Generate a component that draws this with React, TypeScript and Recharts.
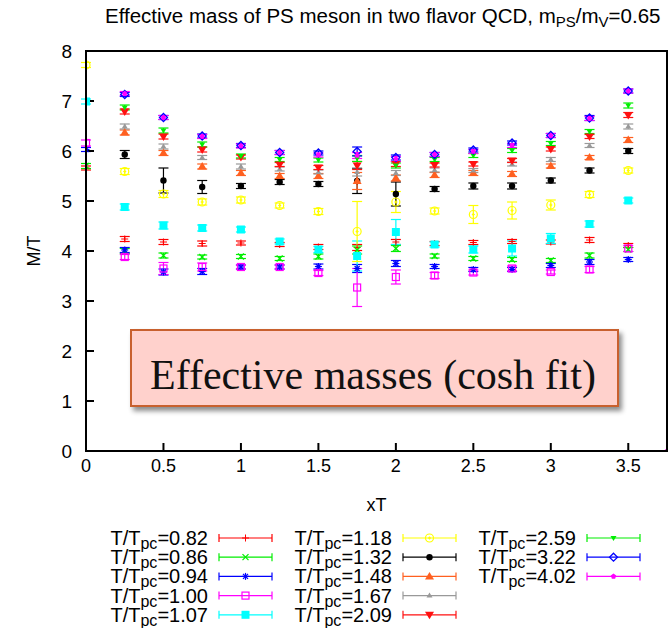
import React from 'react';
import { ScatterChart, Scatter, XAxis, YAxis, ErrorBar } from 'recharts';

// time slices in units of 1/T
const XT = [0, 0.25, 0.5, 0.75, 1, 1.25, 1.5, 1.75, 2, 2.25, 2.5, 2.75, 3, 3.25, 3.5, 3.75];
const X_TICKS = [0, 0.5, 1, 1.5, 2, 2.5, 3, 3.5];
const Y_TICKS = [0, 1, 2, 3, 4, 5, 6, 7, 8];
const X_RANGE = [0, 3.75];
const Y_RANGE = [0, 8];

// effective mass M/T per temperature (null = off scale)
const M_082 = [5.66, 4.24, 4.18, 4.15, 4.16, 4.13, 4.08, 4.07, 4.18, 4.15, 4.17, 4.19, 4.18, 4.22, 4.11, null];
const M_086 = [5.7, 4.0, 3.91, 3.88, 3.89, 3.85, 3.89, 4.02, 4.05, 3.9, 3.85, 3.83, 3.81, 3.91, 4.03, null];
const M_094 = [6.03, 4.02, 3.58, 3.59, 3.68, 3.68, 3.69, 3.65, 3.75, 3.69, 3.63, 3.63, 3.71, 3.78, 3.83, null];
const M_100 = [6.16, 3.88, 3.65, 3.68, 3.68, 3.68, 3.56, 3.27, 3.48, 3.51, 3.57, 3.65, 3.58, 3.63, 4.05, null];
const M_107 = [6.99, 4.88, 4.51, 4.46, 4.43, 4.19, 4.03, 3.9, 4.38, 4.13, 4.03, 4.05, 4.25, 4.54, 5.01, null];
const M_118 = [7.72, 5.59, 5.14, 4.98, 5.02, 4.91, 4.79, 4.39, 4.98, 4.8, 4.73, 4.81, 4.92, 5.13, 5.61, null];
const M_132 = [null, 5.93, 5.41, 5.28, 5.3, 5.38, 5.34, 5.4, 5.14, 5.24, 5.3, 5.3, 5.41, 5.61, 6.0, null];
const M_148 = [null, 6.37, 5.96, 5.69, 5.56, 5.5, 5.5, 5.4, 5.46, 5.52, 5.56, 5.54, 5.7, 5.87, 6.22, null];
const M_167 = [null, 6.49, 6.09, 5.87, 5.69, 5.64, 5.58, 5.58, 5.56, 5.62, 5.61, 5.74, 5.83, 6.11, 6.49, null];
const M_209 = [null, 6.79, 6.29, 6.03, 5.88, 5.73, 5.67, 5.71, 5.74, 5.72, 5.74, 5.81, 6.04, 6.29, 6.72, null];
const M_259 = [null, 6.87, 6.41, 6.13, 5.9, 5.83, 5.82, 5.85, 5.71, 5.83, 5.91, 6.01, 6.15, 6.39, 6.91, null];
const M_322 = [null, 7.13, 6.67, 6.3, 6.11, 5.97, 5.96, 5.99, 5.87, 5.93, 6.02, 6.16, 6.31, 6.66, 7.2, null];
const M_402 = [null, 7.15, 6.67, 6.29, 6.1, 5.97, 5.92, 5.91, 5.84, 5.93, 5.99, 6.11, 6.31, 6.65, 7.2, 0];

// statistical errors
const E_082 = [0.04, 0.05, 0.05, 0.05, 0.04, 0.04, 0.05, 0.06, 0.05, 0.04, 0.04, 0.04, 0.04, 0.05, 0.04, 0];
const E_086 = [0.05, 0.05, 0.05, 0.04, 0.04, 0.04, 0.05, 0.08, 0.06, 0.04, 0.04, 0.04, 0.04, 0.05, 0.04, 0];
const E_094 = [0.04, 0.05, 0.06, 0.06, 0.04, 0.04, 0.05, 0.08, 0.06, 0.04, 0.04, 0.04, 0.04, 0.05, 0.04, 0];
const E_100 = [0.06, 0.05, 0.12, 0.08, 0.04, 0.04, 0.05, 0.38, 0.14, 0.06, 0.05, 0.05, 0.04, 0.06, 0.06, 0];
const E_107 = [0.05, 0.06, 0.07, 0.06, 0.05, 0.05, 0.06, 0.3, 0.25, 0.05, 0.07, 0.15, 0.1, 0.06, 0.05, 0];
const E_118 = [0.05, 0.06, 0.07, 0.06, 0.06, 0.05, 0.06, 0.6, 0.21, 0.06, 0.18, 0.17, 0.1, 0.06, 0.05, 0];
const E_132 = [0, 0.08, 0.25, 0.13, 0.05, 0.05, 0.05, 0.25, 0.24, 0.05, 0.06, 0.06, 0.05, 0.05, 0.05, 0];
const E_148 = [0, 0.05, 0.05, 0.05, 0.05, 0.05, 0.05, 0.17, 0.06, 0.05, 0.05, 0.05, 0.04, 0.04, 0.05, 0];
const E_167 = [0, 0.05, 0.05, 0.04, 0.05, 0.04, 0.04, 0.08, 0.05, 0.04, 0.04, 0.04, 0.04, 0.04, 0.05, 0];
const E_209 = [0, 0.05, 0.05, 0.05, 0.04, 0.04, 0.04, 0.08, 0.05, 0.04, 0.04, 0.04, 0.04, 0.04, 0.05, 0];
const E_259 = [0, 0.05, 0.05, 0.05, 0.04, 0.04, 0.04, 0.06, 0.05, 0.04, 0.04, 0.04, 0.04, 0.04, 0.05, 0];
const E_322 = [0, 0.04, 0.04, 0.04, 0.04, 0.04, 0.04, 0.09, 0.05, 0.04, 0.04, 0.04, 0.04, 0.05, 0.04, 0];
const E_402 = [0, 0.04, 0.04, 0.04, 0.04, 0.04, 0.04, 0.06, 0.05, 0.04, 0.04, 0.04, 0.04, 0.04, 0.04, 0];

type MarkerKind =
  | 'plus' | 'cross' | 'star' | 'openSquare' | 'square' | 'openCircle' | 'circle'
  | 'triUp' | 'triUpSmall' | 'triDown' | 'triDownSmall' | 'openDiamond' | 'pentagon';

const SERIES: { label: string; color: string; marker: MarkerKind; m: (number | null)[]; e: number[] }[] = [
  { label: '0.82', color: '#ff0000', marker: 'plus', m: M_082, e: E_082 },
  { label: '0.86', color: '#00ee00', marker: 'cross', m: M_086, e: E_086 },
  { label: '0.94', color: '#0000ff', marker: 'star', m: M_094, e: E_094 },
  { label: '1.00', color: '#ff00ff', marker: 'openSquare', m: M_100, e: E_100 },
  { label: '1.07', color: '#00ffff', marker: 'square', m: M_107, e: E_107 },
  { label: '1.18', color: '#ffff00', marker: 'openCircle', m: M_118, e: E_118 },
  { label: '1.32', color: '#000000', marker: 'circle', m: M_132, e: E_132 },
  { label: '1.48', color: '#ff6020', marker: 'triUp', m: M_148, e: E_148 },
  { label: '1.67', color: '#999999', marker: 'triUpSmall', m: M_167, e: E_167 },
  { label: '2.09', color: '#ff1010', marker: 'triDown', m: M_209, e: E_209 },
  { label: '2.59', color: '#00ee00', marker: 'triDownSmall', m: M_259, e: E_259 },
  { label: '3.22', color: '#0000ff', marker: 'openDiamond', m: M_322, e: E_322 },
  { label: '4.02', color: '#ff00ff', marker: 'pentagon', m: M_402, e: E_402 },
];

const FONT = '"Liberation Sans", Arial, Helvetica, sans-serif';
const FRAME = { stroke: '#000', strokeWidth: 2 };

// chart geometry: the plot box is what the margins and axis sizes leave over
const CHART_W = 669;
const CHART_H = 520;
const MARGIN = { top: 51, right: 2, bottom: 9, left: 0 };
const Y_AXIS_W = 86;
const X_AXIS_H = 60;
const PLOT = {
  x: MARGIN.left + Y_AXIS_W,
  y: MARGIN.top,
  w: CHART_W - MARGIN.left - Y_AXIS_W - MARGIN.right,
  h: CHART_H - MARGIN.top - MARGIN.bottom - X_AXIS_H,
};

const Marker = ({ kind, color, cx, cy }: { kind: MarkerKind; color: string; cx: number; cy: number }) => {
  const s = 3.5;
  switch (kind) {
    case 'plus':
      return (
        <g stroke={color} strokeWidth={1}>
          <line x1={cx - s} y1={cy} x2={cx + s} y2={cy} />
          <line x1={cx} y1={cy - s} x2={cx} y2={cy + s} />
        </g>
      );
    case 'cross':
      return (
        <g stroke={color} strokeWidth={1.2}>
          <line x1={cx - 3} y1={cy - 3} x2={cx + 3} y2={cy + 3} />
          <line x1={cx - 3} y1={cy + 3} x2={cx + 3} y2={cy - 3} />
        </g>
      );
    case 'star':
      return (
        <g stroke={color} strokeWidth={1.2}>
          <line x1={cx - s} y1={cy} x2={cx + s} y2={cy} />
          <line x1={cx} y1={cy - s} x2={cx} y2={cy + s} />
          <line x1={cx - 2.5} y1={cy - 2.5} x2={cx + 2.5} y2={cy + 2.5} />
          <line x1={cx - 2.5} y1={cy + 2.5} x2={cx + 2.5} y2={cy - 2.5} />
        </g>
      );
    case 'openSquare':
      return <rect x={cx - 3.5} y={cy - 3.5} width={7} height={7} fill="none" stroke={color} strokeWidth={1.2} />;
    case 'square':
      return <rect x={cx - 4} y={cy - 4} width={8} height={8} fill={color} />;
    case 'openCircle':
      return (
        <g stroke={color} strokeWidth={1.2} fill="none">
          <circle cx={cx} cy={cy} r={4} />
          <line x1={cx - 1.5} y1={cy} x2={cx + 1.5} y2={cy} />
          <line x1={cx} y1={cy - 1.5} x2={cx} y2={cy + 1.5} />
        </g>
      );
    case 'circle':
      return <circle cx={cx} cy={cy} r={3.2} fill={color} />;
    case 'triUp':
      return <polygon points={`${cx},${cy - 4.5} ${cx - 4.5},${cy + 3} ${cx + 4.5},${cy + 3}`} fill={color} />;
    case 'triUpSmall':
      return <polygon points={`${cx},${cy - 3} ${cx - 3},${cy + 2} ${cx + 3},${cy + 2}`} fill={color} />;
    case 'triDown':
      return <polygon points={`${cx},${cy + 4.5} ${cx - 4.5},${cy - 3} ${cx + 4.5},${cy - 3}`} fill={color} />;
    case 'triDownSmall':
      return <polygon points={`${cx},${cy + 3} ${cx - 3},${cy - 2} ${cx + 3},${cy - 2}`} fill={color} />;
    case 'openDiamond':
      return (
        <polygon
          points={`${cx},${cy - 4} ${cx + 4},${cy} ${cx},${cy + 4} ${cx - 4},${cy}`}
          fill="none"
          stroke={color}
          strokeWidth={1.3}
        />
      );
    case 'pentagon':
    default: {
      const pts = [0, 1, 2, 3, 4]
        .map((k) => {
          const a = -Math.PI / 2 + (k * 2 * Math.PI) / 5;
          return `${cx + 2.8 * Math.cos(a)},${cy + 2.8 * Math.sin(a)}`;
        })
        .join(' ');
      return <polygon points={pts} fill={color} />;
    }
  }
};

const seriesData = (m: (number | null)[], e: number[]) =>
  XT.map((x, i) => ({ x, y: m[i], err: e[i] })).filter((d) => d.y !== null);

// key entry: label right-aligned, then a gnuplot style error bar sample
const KeyEntry = ({ label, color, marker, x, y }: { label: string; color: string; marker: MarkerKind; x: number; y: number }) => (
  <g>
    <text x={x} y={y} textAnchor="end" fontSize={20} fontFamily={FONT} fill="#000">
      T/T<tspan dy={4} fontSize={16}>pc</tspan>
      <tspan dy={-4}>={label}</tspan>
    </text>
    <g stroke={color} strokeWidth={1.2}>
      <line x1={x + 11} y1={y - 7} x2={x + 64} y2={y - 7} />
      <line x1={x + 11} y1={y - 11} x2={x + 11} y2={y - 3} />
      <line x1={x + 64} y1={y - 11} x2={x + 64} y2={y - 3} />
    </g>
    <Marker kind={marker} color={color} cx={x + 37.5} cy={y - 7} />
  </g>
);

const KEY_COLS = [208, 392, 576];
const KEY_ROW0 = 545;
const KEY_ROW_STEP = 19.2;

const App = () => {
  return (
    <div style={{ position: 'absolute', left: 0, top: 0, width: 669, height: 628, background: '#fff' }}>
      <div style={{ position: 'absolute', left: 0, top: 0 }}>
        <ScatterChart width={CHART_W} height={CHART_H} margin={MARGIN}>
          <XAxis
            type="number"
            dataKey="x"
            domain={X_RANGE}
            ticks={X_TICKS}
            allowDataOverflow
            height={X_AXIS_H}
            tickSize={-8}
            tickMargin={16}
            axisLine={FRAME}
            tickLine={FRAME}
            tick={{ fontSize: 18, fill: '#000', fontFamily: FONT }}
            label={{ value: 'xT', position: 'insideBottom', offset: 0, fontSize: 18, fill: '#000', fontFamily: FONT }}
          />
          <XAxis
            xAxisId="top"
            orientation="top"
            type="number"
            domain={X_RANGE}
            ticks={X_TICKS}
            allowDataOverflow
            height={0}
            tickSize={-8}
            tickFormatter={() => ''}
            axisLine={FRAME}
            tickLine={FRAME}
          />
          <YAxis
            type="number"
            dataKey="y"
            domain={Y_RANGE}
            ticks={Y_TICKS}
            allowDataOverflow
            width={Y_AXIS_W}
            tickSize={-8}
            tickMargin={22}
            axisLine={FRAME}
            tickLine={FRAME}
            tick={{ fontSize: 19, fill: '#000', fontFamily: FONT }}
          />
          <YAxis
            yAxisId="right"
            orientation="right"
            type="number"
            domain={Y_RANGE}
            ticks={Y_TICKS}
            allowDataOverflow
            width={0}
            tickSize={-8}
            tickFormatter={() => ''}
            axisLine={FRAME}
            tickLine={FRAME}
          />
          {SERIES.map((s) => (
            <Scatter
              key={s.label}
              name={s.label}
              data={seriesData(s.m, s.e)}
              isAnimationActive={false}
              shape={(p: any) => <Marker kind={s.marker} color={s.color} cx={p.cx} cy={p.cy} />}
            >
              <ErrorBar dataKey="err" direction="y" width={5} stroke={s.color} strokeWidth={1.2} isAnimationActive={false} />
            </Scatter>
          ))}
        </ScatterChart>
      </div>

      <svg width={669} height={628} style={{ position: 'absolute', left: 0, top: 0, pointerEvents: 'none' }}>
        <defs>
          <filter id="boxShadow" x="-5%" y="-20%" width="115%" height="150%">
            <feDropShadow dx={3} dy={4} stdDeviation={2.5} floodColor="#000" floodOpacity={0.45} />
          </filter>
        </defs>

        {/* plot border */}
        <rect x={PLOT.x} y={PLOT.y} width={PLOT.w} height={PLOT.h} fill="none" stroke="#000" strokeWidth={2} />

        <text x={105} y={23} fontSize={20.5} fontFamily={FONT} fill="#000">
          Effective mass of PS meson in two flavor QCD, m<tspan dy={4} fontSize={15}>PS</tspan>
          <tspan dy={-4}>/m</tspan>
          <tspan dy={4} fontSize={15}>V</tspan>
          <tspan dy={-4}>=0.65</tspan>
        </text>

        <text
          x={40}
          y={251}
          textAnchor="middle"
          fontSize={18}
          fontFamily={FONT}
          fill="#000"
          transform="rotate(-90, 40, 251)"
        >
          M/T
        </text>

        <rect
          x={131}
          y={330}
          width={487}
          height={76}
          fill="#ffd1cc"
          stroke="#c8602e"
          strokeWidth={2}
          filter="url(#boxShadow)"
        />
        <text
          x={373}
          y={389}
          textAnchor="middle"
          fontSize={42}
          fontFamily='"Liberation Serif", "DejaVu Serif", serif'
          fill="#111"
        >
          Effective masses (cosh fit)
        </text>

        {SERIES.map((s, i) => (
          <KeyEntry
            key={s.label}
            label={s.label}
            color={s.color}
            marker={s.marker}
            x={KEY_COLS[Math.floor(i / 5)]}
            y={KEY_ROW0 + (i % 5) * KEY_ROW_STEP}
          />
        ))}
      </svg>
    </div>
  );
};

export default App;
